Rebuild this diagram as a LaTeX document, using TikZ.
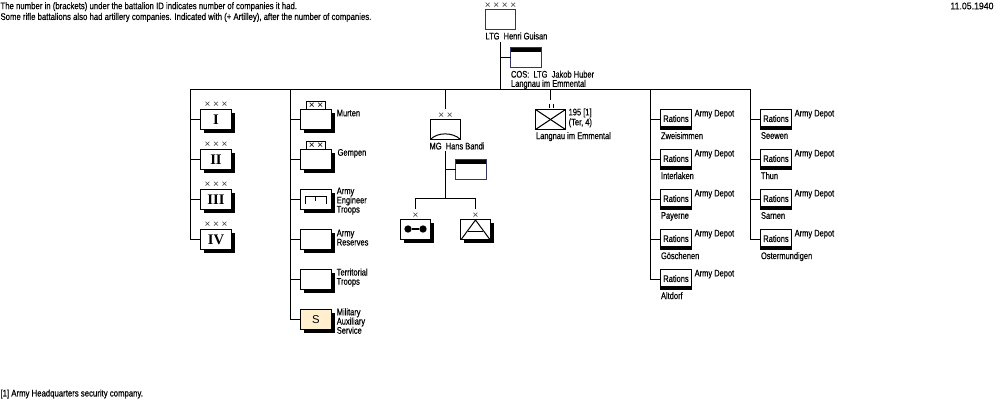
\documentclass[tikz,border=0pt]{standalone}
\usepackage{fontspec}
\setmainfont[FakeStretch=0.78,FakeBold=0.4]{Liberation Sans}
\newfontfamily\notefont[FakeStretch=0.81,FakeBold=0.4]{Liberation Sans}
\newfontfamily\datefont[FakeStretch=0.91,FakeBold=0.4]{Liberation Sans}
\newfontfamily\letterfont{Liberation Sans}
\newfontfamily\numeralfont{Liberation Serif}
\usetikzlibrary{positioning,shadows}
\definecolor{UnitNavy}{RGB}{51,51,102}
\definecolor{AuxCream}{RGB}{255,239,206}
\newcommand{\rankx}{\hspace{2pt}}

\begin{document}
\begin{tikzpicture}[
  x=.75pt,y=-.75pt,line width=.75pt,
  node distance=15pt and 15pt,
  txt/.style={inner sep=0pt,align=left,font=\fontsize{7.2}{6.9}\selectfont},
  unit/.style={draw,fill=white,inner sep=0pt,outer sep=0pt,minimum width=23.25pt,minimum height=15pt,
               drop shadow={shadow xshift=2.25pt,shadow yshift=-2.25pt,fill=black,opacity=1}},
  flat/.style={draw=UnitNavy,fill=white,inner sep=0pt,outer sep=0pt,minimum width=23.25pt,minimum height=15pt},
  staff/.style={flat,path picture={\fill[black] (path picture bounding box.north west)
               rectangle ([yshift=-3pt]path picture bounding box.north east);}},
  depot/.style={flat,draw=black,text depth=1.5pt,font=\fontsize{7.2}{7}\selectfont,path picture={\fill[black] (path picture bounding box.south west)
               rectangle ([yshift=2.6pt]path picture bounding box.south east);}},
  batt/.style={unit,font=\numeralfont\bfseries\fontsize{11}{11}\selectfont},
  rank/.style={inner sep=0pt,font=\letterfont\fontsize{7.5}{7.5}\selectfont,text=black!75},
  tag/.style={draw,fill=white,inner sep=0pt,outer sep=0pt,minimum width=14pt,minimum height=6pt,font=\letterfont\fontsize{7.5}{6}\selectfont},
  side/.style={txt,xshift=3.6pt}]
  % page
  \fill[white] (0,0) rectangle (1000,400);
  % headquarters
  \node (hq) [flat,minimum width=22.5pt,anchor=north west] at (485.5,9.5) {};
  \node (hqrank) [rank,above=0.6pt of hq] {×\rankx×\rankx×\rankx×};
  \node (hqname) [txt,anchor=west] at (485,36) {LTG\ \ Henri Guisan};
  \node (cos) [staff,anchor=north west] at (510.5,47.5) {};
  \node (cosname) [txt,below right=2pt and 0pt of cos.south west] {COS:\ \ LTG\ \ Jakob Huber\\Langnau im Emmental};
  \coordinate (trunk) at (500.5,42);
  \coordinate (bus) at (500.5,89);
  \coordinate (busA) at (190.5,89);
  \coordinate (busB) at (290.5,89);
  \coordinate (busC) at (445.5,89);
  \coordinate (busD) at (550.5,89);
  \coordinate (busE) at (650.5,89);
  \coordinate (busF) at (750.5,89);
  \draw (trunk)--(bus);
  \draw (trunk|-cos)--(cos);
  \draw (busA)--(busF);

  % rifle battalions
  \node (btnI) [batt,anchor=north west] at (200.5,109.5) {I};
  \node (btnII) [batt,below=of btnI] {II};
  \node (btnIII) [batt,below=of btnII] {III};
  \node (btnIV) [batt,below=of btnIII] {IV};
  \node (rankI) [rank,above=0.8pt of btnI] {×\rankx×\rankx×};
  \node (rankII) [rank,above=0.8pt of btnII] {×\rankx×\rankx×};
  \node (rankIII) [rank,above=0.8pt of btnIII] {×\rankx×\rankx×};
  \node (rankIV) [rank,above=0.8pt of btnIV] {×\rankx×\rankx×};
  \draw (busA)|-(btnI);
  \draw (busA)|-(btnII);
  \draw (busA)|-(btnIII);
  \draw (busA)|-(btnIV);

  % army troops
  \node (murten) [unit,anchor=north west] at (300.5,109.5) {};
  \node (gempen) [unit,below=of murten] {};
  \node (engineer) [unit,below=of gempen] {};
  \node (reserves) [unit,below=of engineer] {};
  \node (territorial) [unit,below=of reserves] {};
  \node (auxiliary) [unit,fill=AuxCream,below=of territorial,font=\letterfont\fontsize{8.5}{8.5}\selectfont] {S};
  \node (tagmurten) [tag,above=0pt of murten] {×\rankx×};
  \node (taggempen) [tag,above=0pt of gempen] {×\rankx×};
  \node (lblmurten) [side,right=0pt of murten.east,yshift=4.8pt] {Murten};
  \node (lblgempen) [side,right=0.6pt of gempen.east,yshift=4.6pt] {Gempen};
  \node (lblengineer) [side,right=0pt of engineer.east,yshift=-1.2pt] {Army\\Engineer\\Troops};
  \node (lblreserves) [side,right=0pt of reserves.east,yshift=1.4pt] {Army\\Reserves};
  \node (lblterritorial) [side,right=0pt of territorial.east,yshift=1.4pt] {Territorial\\Troops};
  \node (lblauxiliary) [side,right=0pt of auxiliary.east,yshift=-1.2pt] {Military\\Auxiliary\\Service};
  \draw (305,204)--(305,196)--(326,196)--(326,204);
  \draw (315.5,196)--(315.5,201);
  \draw (busB)|-(murten);
  \draw (busB)|-(gempen);
  \draw (busB)|-(engineer);
  \draw (busB)|-(reserves);
  \draw (busB)|-(territorial);
  \draw (busB)|-(auxiliary);

  % machine gun brigade
  \node (mg) [flat,draw=black,minimum width=22.5pt,anchor=north west] at (430.5,119.5) {};
  \node (mgrank) [rank,above=0.6pt of mg] {×\rankx×};
  \node (mgname) [txt,anchor=west] at (429,146) {MG\ \ Hans Bandi};
  \draw (mg.south west) .. controls (437,132) and (453,132) .. (mg.south east);
  \coordinate (mgtop) at (445.5,151);
  \coordinate (mgbus) at (445.5,198);
  \coordinate (mgbusA) at (415.5,198);
  \coordinate (mgbusB) at (475.5,198);
  \node (mgstaff) [staff,anchor=north west] at (455.5,159.5) {};
  \node (cycle) [unit,minimum width=22.5pt,anchor=north west] at (400.5,219.5) {};
  \node (tri) [unit,minimum width=22.5pt,anchor=north west] at (460.5,219.5) {};
  \node (cyclerank) [rank,above=0.6pt of cycle] {×};
  \node (trirank) [rank,above=0.6pt of tri] {×};
  \node (wheelA) [circle,fill=black,inner sep=0pt,minimum size=5.5pt] at (408,229) {};
  \node (wheelB) [circle,fill=black,inner sep=0pt,minimum size=5.5pt] at (423,229) {};
  \draw[line width=1.5pt] (wheelA)--(wheelB);
  \draw (461.5,239)--(475.5,220)--(489.5,239);
  \draw (468,231)--(483,231);
  \draw[shorten >=2pt] (busC)--(mgrank);
  \draw (mgtop)--(mgbus);
  \draw (mgtop|-mgstaff)--(mgstaff);
  \draw (mgbusA)--(mgbusB);
  \draw[shorten >=2pt] (mgbusA)--(cyclerank);
  \draw[shorten >=2pt] (mgbusB)--(trirank);

  % security company
  \node (sec) [flat,draw=black,line width=1.2pt,minimum width=22.5pt,anchor=north west] at (535.5,109.5) {};
  \draw (sec.north west)--(sec.south east);
  \draw (sec.north east)--(sec.south west);
  \node (secid) [txt,right=2pt of sec.east,yshift=1.2pt] {195 [1]\\[.6pt](Ter, 4)};
  \node (secname) [txt,below right=1.6pt and 0pt of sec.south west] {Langnau im Emmental};
  \draw (busD)--(550.5,100);
  \draw (549,103.5)--(549,108);
  \draw (553,103.5)--(553,108);

  % depots
  \node (zwei) [depot,anchor=north west] at (660.5,109.5) {Rations};
  \node (inter) [depot,below=of zwei] {Rations};
  \node (pay) [depot,below=of inter] {Rations};
  \node (gosch) [depot,below=of pay] {Rations};
  \node (alt) [depot,below=of gosch] {Rations};
  \node (see) [depot,anchor=north west] at (760.5,109.5) {Rations};
  \node (thun) [depot,below=of see] {Rations};
  \node (sar) [depot,below=of thun] {Rations};
  \node (oster) [depot,below=of sar] {Rations};
  \node (adzwei) [txt,xshift=2pt,right=0pt of zwei.east,yshift=4pt] {Army Depot};
  \node (adinter) [txt,xshift=2pt,right=0pt of inter.east,yshift=4pt] {Army Depot};
  \node (adpay) [txt,xshift=2pt,right=0pt of pay.east,yshift=4pt] {Army Depot};
  \node (adgosch) [txt,xshift=2pt,right=0pt of gosch.east,yshift=4pt] {Army Depot};
  \node (adalt) [txt,xshift=2pt,right=0pt of alt.east,yshift=4pt] {Army Depot};
  \node (adsee) [txt,xshift=2pt,right=0pt of see.east,yshift=4pt] {Army Depot};
  \node (adthun) [txt,xshift=2pt,right=0pt of thun.east,yshift=4pt] {Army Depot};
  \node (adsar) [txt,xshift=2pt,right=0pt of sar.east,yshift=4pt] {Army Depot};
  \node (adoster) [txt,xshift=2pt,right=0pt of oster.east,yshift=4pt] {Army Depot};
  \node (nmzwei) [txt,below right=1.6pt and 0pt of zwei.south west] {Zweisimmen};
  \node (nminter) [txt,below right=1.6pt and 0pt of inter.south west] {Interlaken};
  \node (nmpay) [txt,below right=1.6pt and 0pt of pay.south west] {Payerne};
  \node (nmgosch) [txt,below right=1.6pt and 0pt of gosch.south west] {Göschenen};
  \node (nmalt) [txt,below right=1.6pt and 0pt of alt.south west] {Altdorf};
  \node (nmsee) [txt,below right=1.6pt and 0pt of see.south west] {Seewen};
  \node (nmthun) [txt,below right=1.6pt and 0pt of thun.south west] {Thun};
  \node (nmsar) [txt,below right=1.6pt and 0pt of sar.south west] {Sarnen};
  \node (nmoster) [txt,below right=1.6pt and 0pt of oster.south west] {Ostermundigen};
  \draw (busE)|-(zwei);
  \draw (busE)|-(inter);
  \draw (busE)|-(pay);
  \draw (busE)|-(gosch);
  \draw (busE)|-(alt);
  \draw (busF)|-(see);
  \draw (busF)|-(thun);
  \draw (busF)|-(sar);
  \draw (busF)|-(oster);

  % notes
  \node (note) [txt,anchor=north west] at (0,1.7) {\notefont The number in (brackets) under the battalion ID indicates number of companies it had.\\[1.2pt]
    \notefont Some rifle battalions also had artillery companies. Indicated with (+ Artilley), after the number of companies.};
  \node (date) [txt,anchor=east] at (994,6) {\datefont 11.05.1940};
  \node (foot) [txt,anchor=west] at (0,394) {\notefont [1] Army Headquarters security company.};
\end{tikzpicture}
\end{document}
